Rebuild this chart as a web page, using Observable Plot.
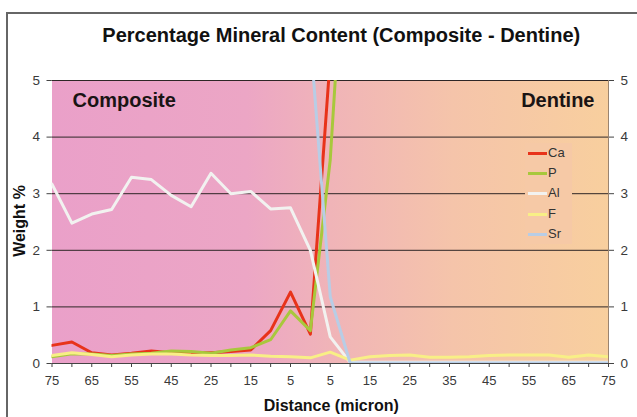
<!DOCTYPE html>
<html><head><meta charset="utf-8">
<script src="https://cdn.jsdelivr.net/npm/d3@7"></script>
<script src="https://cdn.jsdelivr.net/npm/@observablehq/plot@0.6"></script>
<style>
html,body{margin:0;padding:0;background:#fff;}
#wrap{position:relative;width:637px;height:417px;overflow:hidden;font-family:"Liberation Sans",Arial,sans-serif;}
#frame{position:absolute;left:6px;top:12px;width:700px;height:500px;border-left:2px solid #666;border-top:2px solid #666;}
#chart{position:absolute;left:0;top:0;}
#legend{position:absolute;left:525px;top:143px;width:47px;height:101px;background:#f6c9a6;}
.row{position:relative;height:20.2px;font-size:13px;color:#333;line-height:20px;}
.sw{position:absolute;left:3px;top:9px;width:19px;height:3px;}
.lb{position:absolute;left:23px;top:0;}
</style></head><body>
<div id="wrap"><div id="frame"></div><div id="chart"></div><div id="legend"></div></div>
<script>
const tickLabels = ["75","65","55","45","25","15","5","5","15","25","35","45","55","65","75"];
const seriesNames = ["Ca","P","Al","F","Sr"];
const seriesColors = ["#e8331a","#a8c83c","#f2f2f0","#f8ef86","#b8cde6"];
const Ca = [0.32,0.38,0.19,0.15,0.18,0.22,0.19,0.19,0.19,0.21,0.24,0.58,1.26,0.52,5.4,null,null,null,null,null,null,null,null,null,null,null,null,null,null];
const P  = [0.12,0.17,0.17,0.14,0.17,0.18,0.22,0.21,0.18,0.24,0.28,0.42,0.93,0.58,3.6,9.2,null,null,null,null,null,null,null,null,null,null,null,null,null];
const Al = [3.17,2.48,2.64,2.72,3.29,3.25,2.97,2.77,3.36,3.0,3.04,2.73,2.75,2.0,0.47,0.02,0.02,0.02,0.02,0.02,0.02,0.02,0.02,0.02,0.02,0.02,0.02,0.02,0.02];
const F  = [0.14,0.19,0.16,0.12,0.15,0.17,0.17,0.15,0.14,0.14,0.15,0.13,0.12,0.1,0.2,0.06,0.12,0.14,0.15,0.11,0.11,0.12,0.14,0.15,0.15,0.15,0.11,0.15,0.12];
const Sr = [null,null,null,null,null,null,null,null,null,null,null,null,null,5.76,1.18,0.01,0.01,0.01,0.01,0.01,0.01,0.01,0.01,0.01,0.01,0.01,0.01,0.01,0.01];
const yTicks = [0,1,2,3,4,5];
const gridValues = [1,2,3,4,5];
const title = "Percentage Mineral Content (Composite - Dentine)";

const seriesData = [Ca,P,Al,F,Sr];
const idx = Ca.map((_, i) => i);
const lastIdx = idx[idx.length - 1];
const font = '"Liberation Sans", Arial, sans-serif';

const lineMarks = seriesData.map((arr, k) =>
  Plot.line(arr.map((v, i) => ({i, v})), {
    x: "i", y: "v", stroke: seriesColors[k], strokeWidth: 3, clip: true
  })
);

const plot = Plot.plot({
  width: 637, height: 417,
  marginTop: 80, marginBottom: 54, marginLeft: 51.5, marginRight: 29,
  style: {fontFamily: font, fontSize: "13px", color: "#3a3a3a", background: "transparent", overflow: "visible"},
  x: {domain: [idx[0], lastIdx]},
  y: {domain: [0, 5]},
  marks: [
    Plot.frame({fill: "url(#bg)", stroke: null}),
    Plot.ruleY(gridValues, {stroke: "#2e2626", strokeWidth: 1}),
    Plot.ruleX([lastIdx], {stroke: "#9a8470", strokeWidth: 1}),
    Plot.ruleY([0], {stroke: "#444", strokeWidth: 1}),
    Plot.axisX(idx, {tickSize: 4, tickPadding: 8, fontSize: 13, label: null, stroke: "#444",
      tickFormat: i => (i % 2 ? "" : tickLabels[i / 2])}),
    Plot.axisY(yTicks, {anchor: "left", tickSize: 5, tickPadding: 7, fontSize: 13.5, label: null, stroke: "#444", tickFormat: d => String(d)}),
    Plot.axisY(yTicks, {anchor: "right", tickSize: 5, tickPadding: 7, fontSize: 13.5, label: null, stroke: "#444", tickFormat: d => String(d)}),
    ...lineMarks,
    Plot.text([title], {frameAnchor: "top", dx: 11, dy: -45, lineAnchor: "middle", fontWeight: "bold", fontSize: 20, fill: "#111"}),
    Plot.text(["Composite"], {frameAnchor: "top-left", textAnchor: "start", dx: 20.5, dy: 20, lineAnchor: "middle", fontWeight: "bold", fontSize: 20, fill: "#1a1414"}),
    Plot.text(["Dentine"], {frameAnchor: "top-right", textAnchor: "end", dx: -14, dy: 20, lineAnchor: "middle", fontWeight: "bold", fontSize: 20, fill: "#1a1414"}),
    Plot.text(["Weight %"], {frameAnchor: "left", textAnchor: "middle", rotate: -90, dx: -32.5, dy: -1, lineAnchor: "middle", fontWeight: "bold", fontSize: 16, fill: "#111"}),
    Plot.text(["Distance (micron)"], {frameAnchor: "bottom", textAnchor: "middle", dx: 1, dy: 42, lineAnchor: "middle", fontWeight: "bold", fontSize: 16, fill: "#111"})
  ]
});

const ns = "http://www.w3.org/2000/svg";
const defs = document.createElementNS(ns, "defs");
defs.innerHTML = '<linearGradient id="bg" x1="0" x2="1" y1="0" y2="0">' +
  '<stop offset="0" stop-color="#eaa0c9"/>' +
  '<stop offset="0.35" stop-color="#eca6c5"/>' +
  '<stop offset="0.5" stop-color="#f0b4b8"/>' +
  '<stop offset="0.72" stop-color="#f5c4aa"/>' +
  '<stop offset="1" stop-color="#f8cf9e"/>' +
  '</linearGradient>';
plot.insertBefore(defs, plot.firstChild);
document.getElementById("chart").appendChild(plot);

const legend = document.getElementById("legend");
seriesNames.forEach((name, k) => {
  const row = document.createElement("div");
  row.className = "row";
  row.innerHTML = '<div class="sw" style="background:' + seriesColors[k] + '"></div><div class="lb">' + name + '</div>';
  legend.appendChild(row);
});
</script>
</body></html>
